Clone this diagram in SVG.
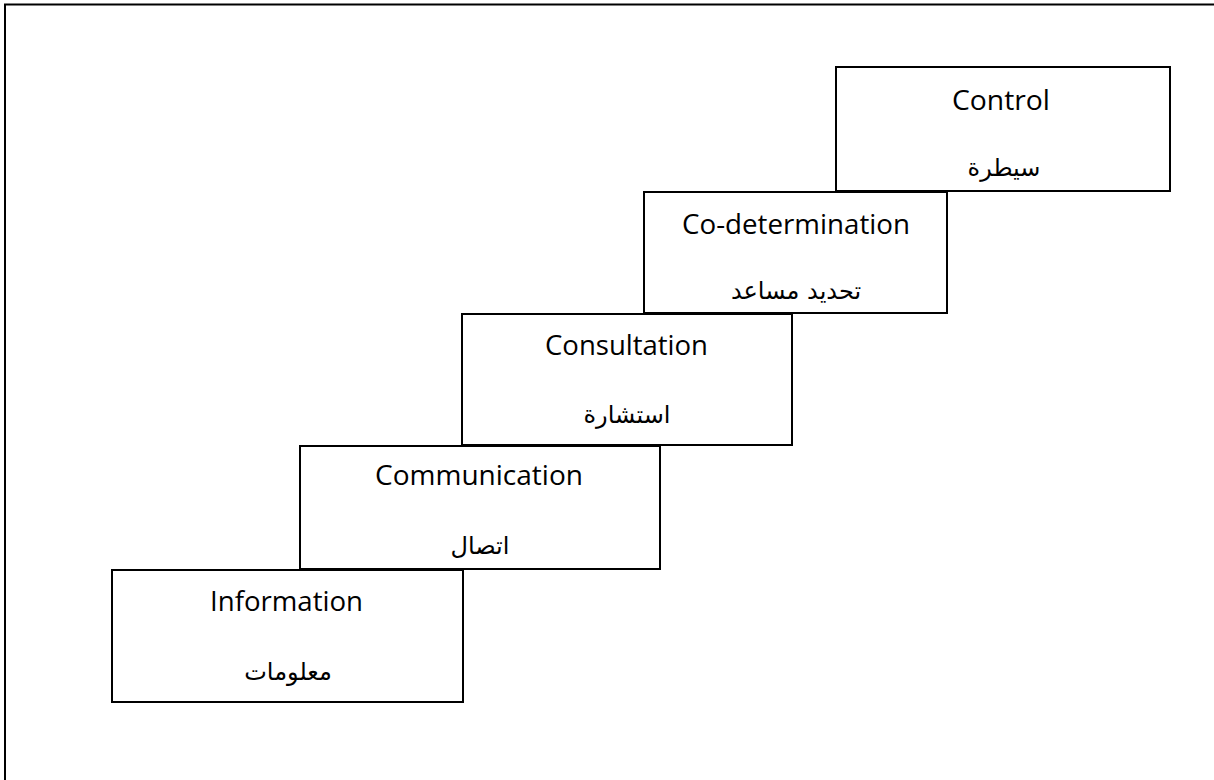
<svg xmlns="http://www.w3.org/2000/svg" width="1214" height="780" viewBox="0 0 1214 780">
<style>
.box{fill:#fff;stroke:#000;stroke-width:2}
.en{font-family:"Open Sans","Liberation Sans",sans-serif;font-size:27px;fill:#000;text-anchor:middle}
.ar{font-family:"DejaVu Sans","Noto Sans",sans-serif;font-size:24px;fill:#000;text-anchor:middle;direction:rtl}
.frame{stroke:#000;stroke-width:2;fill:none}
</style>
<rect width="1214" height="780" fill="#fff"/>
<g id="frame">
<line class="frame" x1="4" y1="4.5" x2="1214" y2="4.5"/>
<line class="frame" x1="5" y1="4" x2="5" y2="780"/>
</g>
<g id="connectors"></g>
<g id="control">
<rect class="box" x="836" y="67" width="334" height="124"/>
<text class="en" x="1001" y="110" textLength="98" lengthAdjust="spacingAndGlyphs">Control</text>
<text class="ar" x="1004" y="176">سيطرة</text>
</g>
<g id="codetermination">
<rect class="box" x="644" y="192" width="303" height="121"/>
<text class="en" x="796" y="234" textLength="228" lengthAdjust="spacingAndGlyphs">Co-determination</text>
<text class="ar" x="796" y="299">تحديد مساعد</text>
</g>
<g id="consultation">
<rect class="box" x="462" y="314" width="330" height="131"/>
<text class="en" x="626.5" y="355" textLength="163" lengthAdjust="spacingAndGlyphs">Consultation</text>
<text class="ar" x="627" y="423">استشارة</text>
</g>
<g id="communication">
<rect class="box" x="300" y="446" width="360" height="123"/>
<text class="en" x="479" y="485" textLength="208" lengthAdjust="spacingAndGlyphs">Communication</text>
<text class="ar" x="480" y="554">اتصال</text>
</g>
<g id="information">
<rect class="box" x="112" y="570" width="351" height="132"/>
<text class="en" x="286.5" y="611" textLength="153" lengthAdjust="spacingAndGlyphs">Information</text>
<text class="ar" x="288" y="680">معلومات</text>
</g>
</svg>
